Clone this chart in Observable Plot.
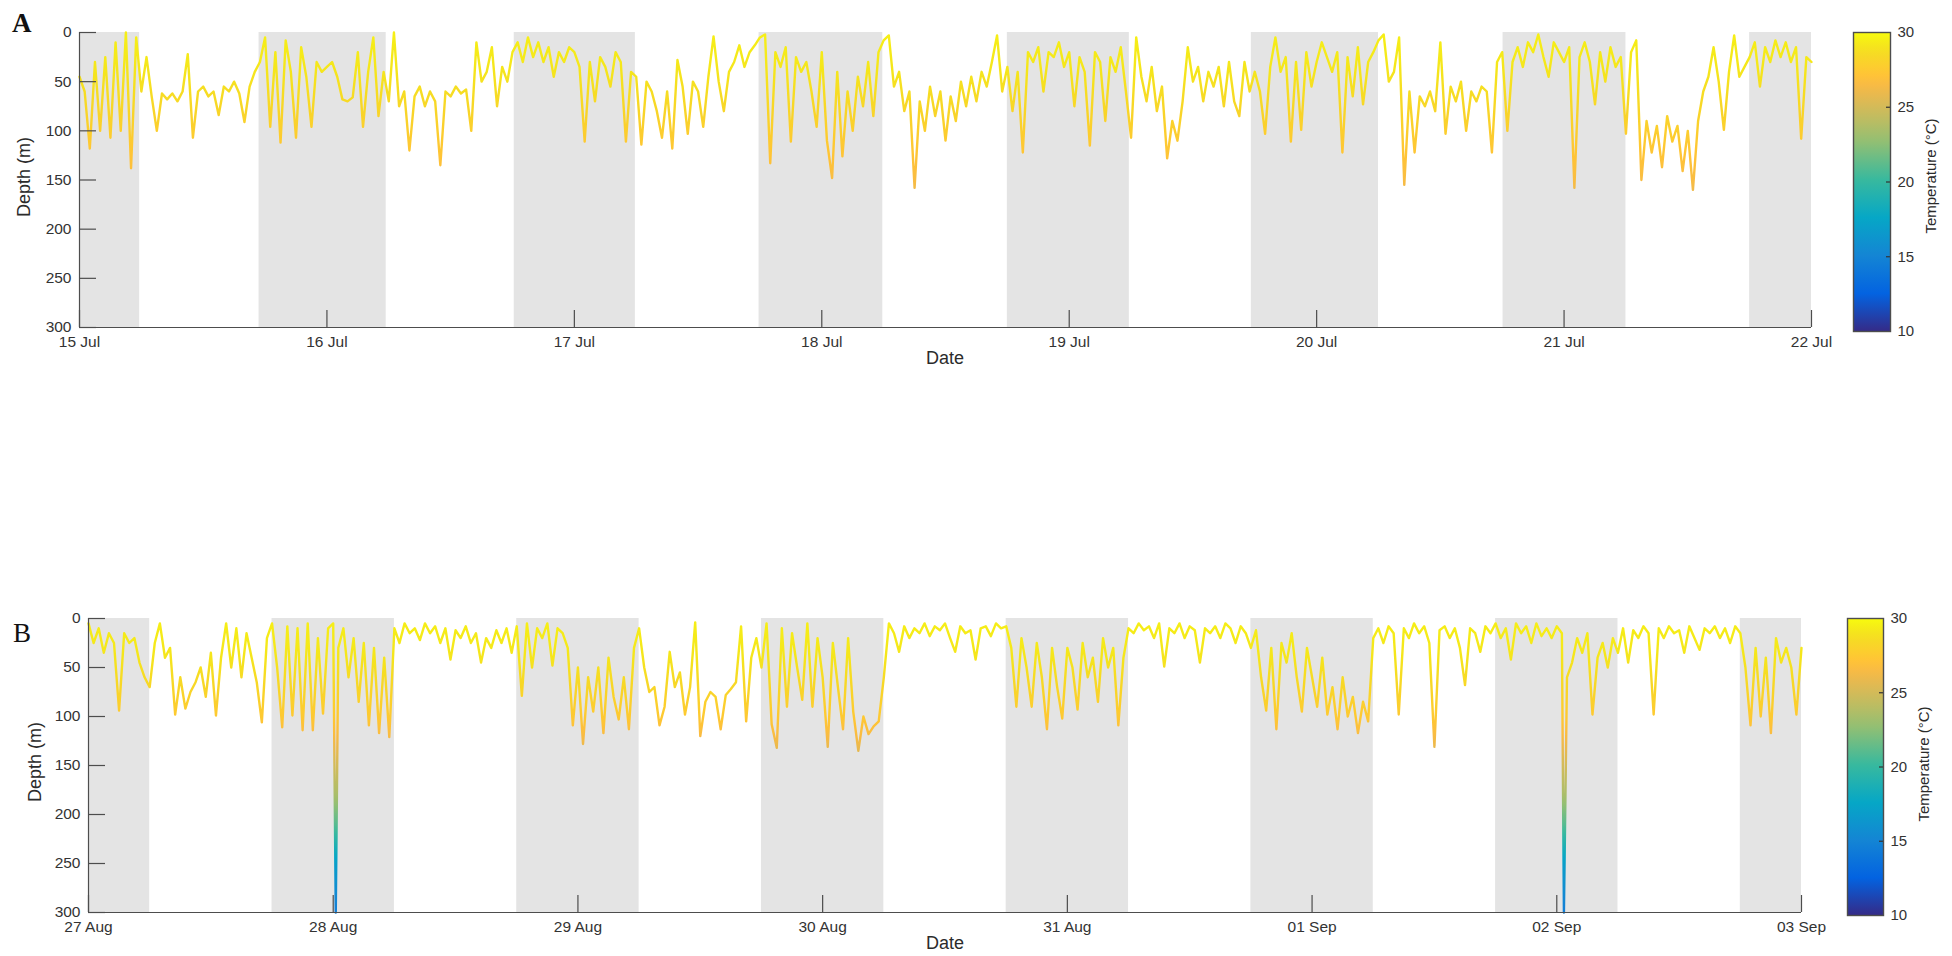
<!DOCTYPE html>
<html>
<head>
<meta charset="utf-8">
<script src="https://cdn.jsdelivr.net/npm/d3@7"></script>
<script src="https://cdn.jsdelivr.net/npm/@observablehq/plot@0.6"></script>
<style>
  body { margin: 0; background: #fff; }
  #wrap { position: relative; width: 1952px; height: 956px; overflow: hidden; background: #fff; }
</style>
</head>
<body>
<div id="wrap"></div>
<script>
// ---------------- data ----------------
// Panel A: depth (m) every 30 min, one array per day (48 values, from 00:00)
const jul15 = [45,60,118,30,100,25,107,10,100,0,138,5,60,25,65,100,62,68,62,70,60,22,107,60,55,65,60,84,55,60,50,62,91,55,40,30,5,96,20,112,8,40,107,15,45,96,30,40];
const jul16 = [35,30,45,68,70,66,20,96,40,5,85,40,70,0,75,60,120,65,55,75,60,70,135,60,65,55,62,58,100,10,50,40,15,75,35,50,20,10,30,5,25,10,30,15,45,20,30,15];
const jul17 = [20,35,111,30,70,25,35,55,20,30,111,40,45,114,50,60,80,107,60,118,28,55,103,50,60,96,45,4,50,80,40,30,13,35,20,13,5,2,133,20,35,15,111,25,40,30,60,96];
const jul18 = [20,110,148,40,126,60,100,45,75,30,85,20,8,3,55,40,80,60,158,70,100,55,85,60,110,65,90,50,75,45,70,40,55,30,3,60,35,80,40,122,20,30,15,60,20,25,10,35];
const jul19 = [20,75,25,40,115,20,30,90,25,40,15,60,107,5,45,70,35,80,55,128,90,110,70,15,50,35,70,40,55,35,75,30,70,85,30,60,40,60,103,35,5,40,25,111,30,99,20,55];
const jul20 = [30,10,25,40,20,122,25,65,15,73,30,20,8,2,50,40,5,155,60,122,65,75,60,80,10,103,55,70,50,100,60,70,55,60,122,30,20,100,30,15,35,10,20,2,25,45,10,20];
const jul21 = [30,15,158,25,10,30,73,20,50,15,35,25,103,20,8,150,90,122,95,137,85,111,95,141,100,160,90,60,45,15,50,99,40,3,45,35,25,10,55,15,30,8,25,10,30,15,108,25];
const endA = 30;

// Panel B
const aug27 = [5,25,10,35,15,25,94,15,25,20,45,60,70,25,5,40,30,98,60,92,75,65,50,80,35,99,40,5,50,10,60,15,40,65,106,20,5,50,111,8,99,10,114,5,114,20,97,10];
const aug28 = [5,30,10,60,20,85,25,109,30,117,40,121,10,25,5,15,10,22,5,15,8,25,10,42,12,20,8,25,15,45,20,30,12,25,10,35,8,79,5,50,10,20,5,48,10,15,30,109];
const aug29 = [50,128,60,95,50,117,40,80,103,60,113,30,10,50,75,70,109,90,34,70,55,98,70,4,120,85,75,80,113,78,72,65,8,105,40,20,50,5,108,132,10,90,15,50,83,5,90,20];
const aug30 = [60,131,25,70,113,20,95,135,100,118,110,105,60,5,15,34,8,20,10,15,5,18,8,12,5,20,34,8,15,12,42,10,8,18,5,10,8,30,90,20,50,90,25,60,113,30,70,102];
const aug31 = [30,50,93,25,60,40,85,20,50,30,109,40,10,15,5,12,8,20,5,49,10,15,5,20,8,12,45,10,15,8,20,5,10,25,8,15,30,12,60,94,30,113,25,45,15,60,95,30];
const sep01 = [60,90,40,98,70,113,60,100,80,117,85,105,20,10,25,8,15,98,10,20,5,15,8,25,131,12,8,20,10,30,68,10,15,34,8,15,5,20,10,42,5,15,8,25,5,18,10,20];
const sep02 = [8,15,60,45,20,35,15,98,40,25,50,20,35,10,45,12,20,8,15,98,10,20,8,15,12,35,8,20,32,10,15,8,20,10,25,8,15,50,109,30,100,40,117,20,45,30,50,98];
const endB = 30;
// deep dives (time, max depth)
const divesB = [{time: "2014-08-28T00:15", depth: 300}, {time: "2014-09-02T00:42", depth: 300}];

// night periods (shaded)
const nightsA = [
  ["2014-07-15T00:00","2014-07-15T05:50"], ["2014-07-15T17:25","2014-07-16T05:45"],
  ["2014-07-16T18:10","2014-07-17T05:55"], ["2014-07-17T17:55","2014-07-18T05:55"],
  ["2014-07-18T18:00","2014-07-19T05:50"], ["2014-07-19T17:40","2014-07-20T06:00"],
  ["2014-07-20T18:05","2014-07-21T06:00"], ["2014-07-21T18:00","2014-07-22T00:00"]
];
const nightsB = [
  ["2014-08-27T00:00","2014-08-27T06:00"], ["2014-08-27T18:00","2014-08-28T06:00"],
  ["2014-08-28T18:00","2014-08-29T06:00"], ["2014-08-29T18:00","2014-08-30T06:00"],
  ["2014-08-30T18:00","2014-08-31T06:00"], ["2014-08-31T18:00","2014-09-01T06:00"],
  ["2014-09-01T18:00","2014-09-02T06:00"], ["2014-09-02T18:00","2014-09-03T00:00"]
];

// temperature vs depth (colour of the trace)
const profDepthA = [0, 40, 100, 150, 200, 300];
const profTempA  = [29.5, 29.1, 27.8, 26.6, 24.5, 19];
const profDepthB = [0, 40, 100, 130, 180, 210, 250, 300];
const profTempB  = [29.5, 29.1, 27.5, 26.0, 23.5, 21.0, 17.0, 14.5];

// ticks
const depthTicks = [0, 50, 100, 150, 200, 250, 300];
const tickDatesA = ["2014-07-15","2014-07-16","2014-07-17","2014-07-18","2014-07-19","2014-07-20","2014-07-21","2014-07-22"];
const tickDatesB = ["2014-08-27","2014-08-28","2014-08-29","2014-08-30","2014-08-31","2014-09-01","2014-09-02","2014-09-03"];
const tempTicks = [10, 15, 20, 25, 30];
const tempDomain = [10, 30];

// parula colormap (index out of 63, colour)
const parulaIdx = [0, 8, 16, 24, 32, 40, 44, 48, 50, 52, 54, 56, 58, 60, 62, 63];
const parulaCol = ["#352a87","#0363e1","#1485d4","#06a7c6","#38b99e","#92bf73","#b7bd64","#d9ba56","#e9b94e","#f8bb44","#ffc337","#fcce2e","#f7d826","#f5e41d","#f6f313","#f9fb0e"];

// ---------------- helpers ----------------
const wrap = document.getElementById("wrap");
const FONT = "'Liberation Sans', Arial, Helvetica, sans-serif";
const parula = d3.scaleLinear()
  .domain(parulaIdx.map(i => tempDomain[0] + (tempDomain[1] - tempDomain[0]) * i / 63))
  .range(parulaCol).interpolate(d3.interpolateRgb).clamp(true);

const utc = s => new Date(s.length <= 10 ? s + "T00:00Z" : s + "Z");

function buildSeries(days, endVal, startISO, dives) {
  const t0 = utc(startISO).getTime();
  const vals = days.flat().concat([endVal]);
  const pts = vals.map((d, i) => ({t: new Date(t0 + i * 1800000), depth: d}));
  for (const dv of dives) pts.push({t: utc(dv.time), depth: dv.depth});
  pts.sort((a, b) => a.t - b.t);
  return pts;
}

function addGradient(svg, id, y1, y2, stops) {
  const ns = "http://www.w3.org/2000/svg";
  const defs = document.createElementNS(ns, "defs");
  const lg = document.createElementNS(ns, "linearGradient");
  lg.setAttribute("id", id);
  lg.setAttribute("gradientUnits", "userSpaceOnUse");
  lg.setAttribute("x1", 0); lg.setAttribute("x2", 0);
  lg.setAttribute("y1", y1); lg.setAttribute("y2", y2);
  for (const [o, c] of stops) {
    const s = document.createElementNS(ns, "stop");
    s.setAttribute("offset", o);
    s.setAttribute("stop-color", c);
    lg.appendChild(s);
  }
  defs.appendChild(lg);
  svg.insertBefore(defs, svg.firstChild);
}

function place(el, left, top) {
  el.style.position = "absolute";
  el.style.left = left + "px";
  el.style.top = top + "px";
  wrap.appendChild(el);
}

function panel(o) {
  const fw = o.width - o.mL - o.mR, fh = o.height - o.mT - o.mB;
  const ticks = o.ticks.map(utc);
  const x0 = ticks[0], x1 = ticks[ticks.length - 1];
  const gid = "grad" + o.id;
  const axisCol = "#4d4d4d";
  const chart = Plot.plot({
    width: o.width, height: o.height,
    marginLeft: o.mL, marginRight: o.mR, marginTop: o.mT, marginBottom: o.mB,
    style: {fontFamily: FONT, fontSize: "15.5px", color: "#333", background: "transparent", overflow: "visible"},
    x: {type: "utc", domain: [x0, x1], ticks: ticks, tickFormat: d3.utcFormat("%d %b"), tickSize: 0, tickPadding: 8, label: null},
    y: {domain: [0, 300], reverse: true, ticks: depthTicks, tickSize: 0, tickPadding: 8, label: null},
    marks: [
      Plot.rect(o.nights, {x1: d => utc(d[0]), x2: d => utc(d[1]), y1: 0, y2: 300, fill: "#e4e4e4"}),
      Plot.line(o.series, {x: "t", y: "depth", stroke: `url(#${gid})`, strokeWidth: 2.4, strokeLinejoin: "round", strokeLinecap: "round"}),
      Plot.ruleX([x0], {stroke: axisCol, strokeWidth: 1.2}),
      Plot.ruleY([300], {stroke: axisCol, strokeWidth: 1.2}),
      Plot.tickY(depthTicks, {y: d => d, insetRight: fw - 17, stroke: axisCol, strokeWidth: 1.2}),
      Plot.tickX(ticks, {x: d => d, insetTop: fh - 17, stroke: axisCol, strokeWidth: 1.2})
    ]
  });
  const y = chart.scale("y");
  const tScale = d3.scaleLinear().domain(o.profD).range(o.profT).clamp(true);
  const stops = d3.range(0, 301, 5).map(d => [d / 300, parula(tScale(d))]);
  addGradient(chart, gid, y.apply(0), y.apply(300), stops);
  place(chart, o.left, o.top);
}

function colorbar(o) {
  const mT = 10, mB = 10, mR = 60;
  const gid = "cb" + o.id;
  const chart = Plot.plot({
    width: o.barW + mR, height: o.barH + mT + mB,
    marginLeft: 0, marginRight: mR, marginTop: mT, marginBottom: mB,
    style: {fontFamily: FONT, fontSize: "15px", color: "#333", background: "transparent", overflow: "visible"},
    y: {domain: tempDomain, ticks: tempTicks, tickSize: 0, tickPadding: 7, label: null, axis: "right"},
    marks: [
      Plot.frame({fill: `url(#${gid})`}),
      Plot.tickY(tempTicks.slice(1, -1), {y: d => d, insetLeft: o.barW - 4, stroke: "#333", strokeWidth: 1.2}),
      Plot.frame({stroke: "#4d4d4d", strokeWidth: 1.4})
    ]
  });
  const y = chart.scale("y");
  const stops = parulaIdx.map((i, k) => [1 - i / 63, parulaCol[k]]).reverse();
  addGradient(chart, gid, y.apply(30), y.apply(10), stops);
  place(chart, o.left, o.top - mT);
}

// ---------------- draw ----------------
const seriesA = buildSeries([jul15, jul16, jul17, jul18, jul19, jul20, jul21], endA, "2014-07-15", []);
const seriesB = buildSeries([aug27, aug28, aug29, aug30, aug31, sep01, sep02], endB, "2014-08-27", divesB);

panel({id: "A", left: 0, top: 0, width: 1840, height: 372, mL: 79, mR: 29, mT: 32, mB: 45,
       ticks: tickDatesA, nights: nightsA, series: seriesA, profD: profDepthA, profT: profTempA});
panel({id: "B", left: 0, top: 586, width: 1840, height: 372, mL: 88, mR: 39, mT: 32, mB: 46,
       ticks: tickDatesB, nights: nightsB, series: seriesB, profD: profDepthB, profT: profTempB});
colorbar({id: "A", left: 1853, top: 32, barW: 37, barH: 299});
colorbar({id: "B", left: 1847, top: 618, barW: 36, barH: 297});

// ---------------- titles / labels (real text) ----------------
const ns = "http://www.w3.org/2000/svg";
const ov = document.createElementNS(ns, "svg");
ov.setAttribute("width", 1952); ov.setAttribute("height", 956);
ov.style.pointerEvents = "none";
function txt(s, x, y, opt = {}) {
  const t = document.createElementNS(ns, "text");
  t.textContent = s;
  t.setAttribute("x", 0); t.setAttribute("y", 0);
  t.setAttribute("transform", `translate(${x},${y})` + (opt.rot ? " rotate(-90)" : ""));
  t.setAttribute("font-family", opt.family || FONT);
  t.setAttribute("font-size", opt.size || 18);
  if (opt.weight) t.setAttribute("font-weight", opt.weight);
  t.setAttribute("fill", opt.fill || "#2b2b2b");
  t.setAttribute("text-anchor", opt.anchor || "middle");
  if (opt.central !== false) t.setAttribute("dominant-baseline", "central");
  ov.appendChild(t);
}
txt("A", 12, 32, {family: "'Liberation Serif', 'DejaVu Serif', serif", size: 27, weight: "bold", anchor: "start", central: false, fill: "#111"});
txt("B", 13, 642, {family: "'Liberation Serif', 'DejaVu Serif', serif", size: 27, anchor: "start", central: false, fill: "#111"});
txt("Depth (m)", 24, 177, {rot: true});
txt("Depth (m)", 35, 762, {rot: true});
txt("Date", 945, 358);
txt("Date", 945, 943);
txt("Temperature (°C)", 1930, 176, {rot: true, size: 15});
txt("Temperature (°C)", 1923, 764, {rot: true, size: 15});
place(ov, 0, 0);
</script>
</body>
</html>
